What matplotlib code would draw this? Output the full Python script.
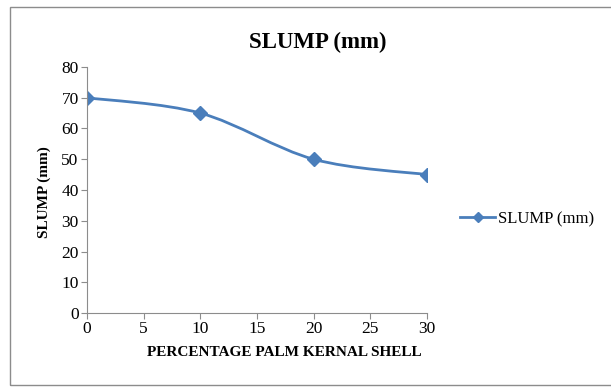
import matplotlib.pyplot as plt
import numpy as np
from matplotlib.path import Path
from matplotlib.patches import PathPatch, Rectangle
from matplotlib.lines import Line2D

plt.rcParams['font.family'] = ['Liberation Serif', 'DejaVu Serif']

# data
pks = [0, 10, 20, 30]
slump = [70, 65, 50, 45]
xticks = [0, 5, 10, 15, 20, 25, 30]
yticks = [0, 10, 20, 30, 40, 50, 60, 70, 80]

color = '#4A7EBB'

fig = plt.figure(figsize=(6.11, 3.87), dpi=100)
ax = fig.add_axes([0.1424, 0.1912, 0.5566, 0.6357])

# outer chart border (right edge cut off like the source)
fig.patches.append(Rectangle((10 / 611, 2 / 387), 620 / 611, 378 / 387,
                             transform=fig.transFigure, fill=False,
                             edgecolor='#8c8c8c', linewidth=1.0))

# smoothed line (Catmull-Rom style bezier through the points, like Excel)
x = np.array(pks, dtype=float)
y = np.array(slump, dtype=float)
verts = [(x[0], y[0])]
codes = [Path.MOVETO]
t = 1 / 6
for i in range(len(x) - 1):
    x0, y0 = (x[i - 1], y[i - 1]) if i > 0 else (x[i], y[i])
    x3, y3 = (x[i + 2], y[i + 2]) if i + 2 < len(x) else (x[i + 1], y[i + 1])
    c1 = (x[i] + (x[i + 1] - x0) * t, y[i] + (y[i + 1] - y0) * t)
    c2 = (x[i + 1] - (x3 - x[i]) * t, y[i + 1] - (y3 - y[i]) * t)
    verts += [c1, c2, (x[i + 1], y[i + 1])]
    codes += [Path.CURVE4] * 3
ax.add_patch(PathPatch(Path(verts, codes), fill=False, edgecolor=color,
                       linewidth=2.0, capstyle='round'))
ax.plot(pks, slump, linestyle='none', marker='D', markersize=7,
        color=color)

ax.set_xlim(0, 30)
ax.set_ylim(0, 80)
ax.set_xticks(xticks)
ax.set_yticks(yticks)
ax.tick_params(direction='out', length=4, color='#8c8c8c', labelsize=12.5,
               pad=2)
for s in ['top', 'right']:
    ax.spines[s].set_visible(False)
for s in ['left', 'bottom']:
    ax.spines[s].set_color('#8c8c8c')

fig.text(318 / 611, 1 - 42 / 387, 'SLUMP (mm)', fontsize=16.5,
         fontweight='bold', ha='center', va='center')
fig.text(284 / 611, 1 - 352 / 387, 'PERCENTAGE PALM KERNAL SHELL',
         fontsize=11, fontweight='bold', ha='center', va='center')
fig.text(44 / 611, 1 - 192 / 387, 'SLUMP (mm)', fontsize=11,
         fontweight='bold', ha='center', va='center', rotation=90)

handle = Line2D([], [], color=color, linewidth=2.0, marker='D', markersize=5)
fig.legend([handle], ['SLUMP (mm)'], loc='center left',
           bbox_to_anchor=(0.753, 1 - 219 / 387), frameon=False,
           fontsize=12, handlelength=2.1, handletextpad=0.2,
           borderpad=0, borderaxespad=0)

fig.savefig('out.png', dpi=100)
